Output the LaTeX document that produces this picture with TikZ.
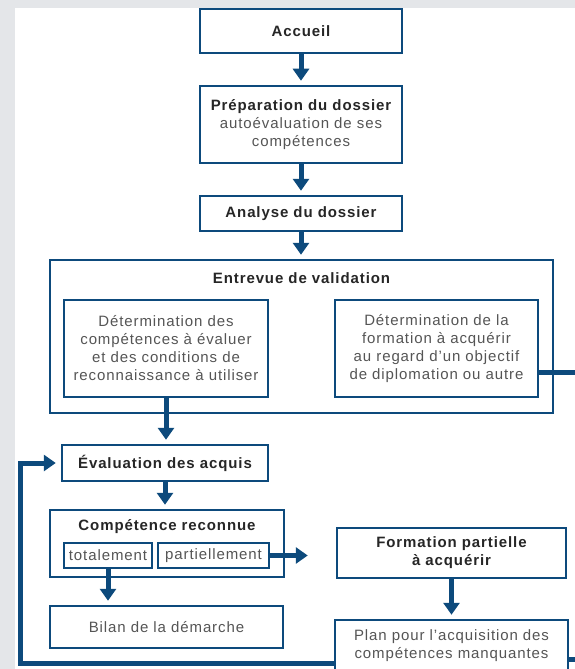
\documentclass[tikz,border=0pt]{standalone}
\usepackage{fontspec}
\setmainfont{Liberation Sans}[LetterSpace=6]
\usetikzlibrary{arrows.meta,positioning}
\definecolor{bleu}{HTML}{0D4A7C}
\definecolor{fond}{HTML}{E4E6E9}
\definecolor{texte}{HTML}{555555}
\newcommand{\entete}[1]{{\bfseries\color{black!85}#1}}

\begin{document}
\begin{tikzpicture}[x=1pt,y=-1pt,
		cadre/.style={draw=bleu,line width=2.5pt,fill=white,inner sep=0pt,align=center,font=\fontsize{15}{18}\selectfont,text=texte},
		titre/.style={font=\fontsize{15}{18}\selectfont\bfseries,text=black!85},
		fleche/.style={draw=bleu,line width=5pt,-{Triangle[width=16pt,length=12pt]},shorten >=4pt},
		ligne/.style={draw=bleu,line width=5pt}]
		\useasboundingbox (0,0) rectangle (575,669);
		\fill[fond] (0,0) rectangle (575,669);
		\fill[white] (15,8) rectangle (575,669);

		\node[cadre,minimum width=202,minimum height=44] (accueil) at (301,31) {\entete{Accueil}};
		\node[cadre,minimum width=202,minimum height=77] (prep) at (301,124.5) {\entete{Préparation du dossier}\\autoévaluation de ses\\compétences};
		\node[cadre,minimum width=202,minimum height=35] (analyse) at (301,213.5) {\entete{Analyse du dossier}};
		\node[cadre,minimum width=503,minimum height=153] (entrevue) at (301.5,336.5) {};
		\node[titre] (entrevuetitre) at (301.5,278) {Entrevue de validation};
		\node[cadre,minimum width=204,minimum height=97] (detcomp) at (166,348.5) {Détermination des\\compétences à évaluer\\et des conditions de\\reconnaissance à utiliser};
		\node[cadre,minimum width=203,minimum height=97] (detform) at (436.5,348.5) {Détermination de la\\formation à acquérir\\au regard d'un objectif\\de diplomation ou autre};
		\node[cadre,minimum width=206,minimum height=36] (evaluation) at (165,463) {\entete{Évaluation des acquis}};
		\node[cadre,minimum width=234,minimum height=67] (competence) at (167,543.5) {};
		\node[titre] (competencetitre) at (167,527) {Compétence reconnue};
		\node[cadre,minimum width=88,minimum height=25] (totalement) at (108,555.5) {totalement};
		\node[cadre,minimum width=111,minimum height=25] (partiellement) at (213.5,555.5) {partiellement};
		\node[cadre,minimum width=229,minimum height=50] (formation) at (451.5,553) {\entete{Formation partielle}\\\entete{à acquérir}};
		\node[cadre,minimum width=233,minimum height=42] (bilan) at (166.5,627) {Bilan de la démarche};
		\node[cadre,minimum width=233,minimum height=52] (plan) at (451.5,646) {Plan pour l'acquisition des\\compétences manquantes};

		\coordinate (retour) at (20,560);
		\coordinate (bord) at (580,0);
		\draw[fleche] (accueil.south) -- (accueil.south |- prep.north);
		\draw[fleche] (prep.south) -- (prep.south |- analyse.north);
		\draw[fleche] (analyse.south) -- (analyse.south |- entrevue.north);
		\draw[fleche] (detcomp.south) -- (detcomp.south |- evaluation.north);
		\draw[fleche] (evaluation.south) -- (evaluation.south |- competence.north);
		\draw[fleche] (totalement.south) -- (totalement.south |- bilan.north);
		\draw[fleche,shorten >=28pt] (partiellement.east) -- (partiellement.east -| formation.west);
		\draw[fleche] (formation.south) -- (formation.south |- plan.north);
		\draw[fleche,shorten >=5pt] ([yshift=10pt]plan.south west) -| (retour) |- (evaluation.west);
		\draw[ligne] ([yshift=-23.5pt]detform.east) -- ([yshift=-23.5pt]detform.east -| bord);
		\draw[ligne] ([yshift=14pt]plan.south east) -- ([yshift=14pt]plan.south east -| bord);
	\end{tikzpicture}
\end{document}
